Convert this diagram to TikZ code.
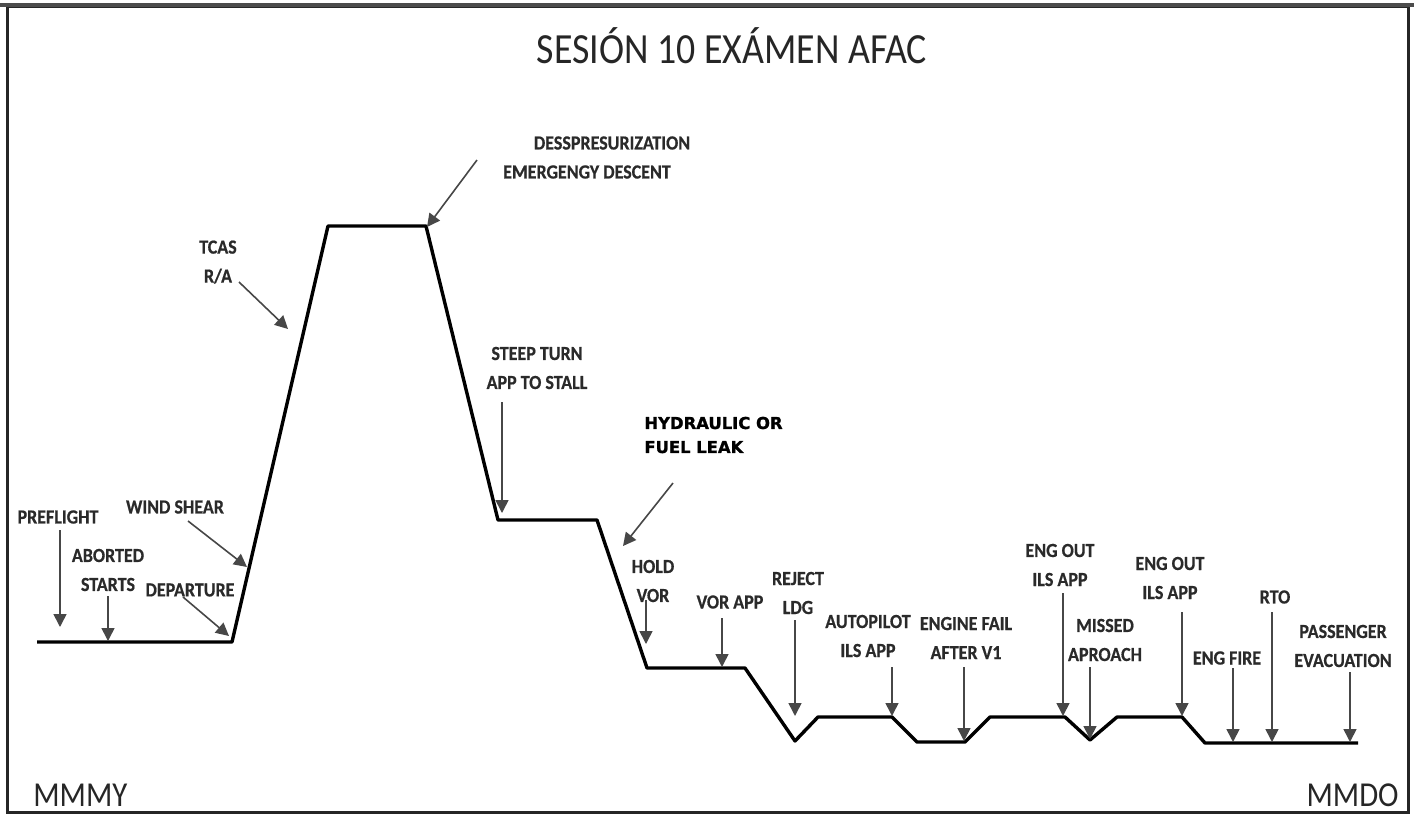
\documentclass[tikz,border=0pt]{standalone}
\usepackage{fontspec}
\usetikzlibrary{arrows.meta}
\newfontfamily\lblfont[FakeStretch=0.9,BoldFeatures={FakeBold=0.6}]{Carlito}
\newfontfamily\ttlfont[FakeStretch=0.88]{Carlito}
\newfontfamily\hydfont[BoldFeatures={FakeBold=1.2}]{DejaVu Sans}
\definecolor{lblc}{HTML}{2A2A2A}
\definecolor{arrc}{HTML}{474747}
\begin{document}
\begin{tikzpicture}[x=0.5pt,y=-0.5pt,
  prof/.style={line width=1.7pt, black, line join=round},
  arr/.style={draw=arrc, line width=0.8pt, -{Triangle[width=6.5pt,length=6.5pt]}},
  lbl/.style={font=\lblfont\bfseries\fontsize{10}{14.5}\selectfont, text=lblc, align=center, inner sep=0pt},
  ttl/.style={font=\ttlfont\fontsize{21.5}{24}\selectfont, text=black!85, inner sep=0pt},
  apt/.style={font=\ttlfont\fontsize{17.5}{20}\selectfont, text=black!85, inner sep=0pt},
  hyd/.style={font=\hydfont\bfseries\fontsize{8.2}{12}\selectfont, align=left, inner sep=0pt}]
\useasboundingbox (0,0) rectangle (1414,815);
% frame
\draw[line width=1.5pt, black!85] (7,6) rectangle (1408,812);
\draw[line width=2pt, black!70] (0,5) -- (1414,5);
% title and airports
\node[ttl] (title) at (732,46) {SESIÓN 10 EXÁMEN AFAC};
\node[apt, anchor=base west] (mmmy) at (33,806) {MMMY};
\node[apt, anchor=base east] (mmdo) at (1399,806) {MMDO};
% profile
\coordinate (p0) at (37,642);   \coordinate (p1) at (232,642);
\coordinate (p2) at (328,226);  \coordinate (p3) at (426,226);
\coordinate (p4) at (498,520);  \coordinate (p5) at (597,520);
\coordinate (p6) at (647,668);  \coordinate (p7) at (745,668);
\coordinate (p8) at (795,741);  \coordinate (p9) at (818,717);
\coordinate (p10) at (892,717); \coordinate (p11) at (917,742);
\coordinate (p12) at (965,742); \coordinate (p13) at (990,717);
\coordinate (p14) at (1065,717);\coordinate (p15) at (1090,740);
\coordinate (p16) at (1117,717);\coordinate (p17) at (1182,717);
\coordinate (p18) at (1205,743);\coordinate (p19) at (1358,743);
\draw[prof] (p0) -- (p1) -- (p2) -- (p3) -- (p4) -- (p5) -- (p6) -- (p7) -- (p8) -- (p9)
  -- (p10) -- (p11) -- (p12) -- (p13) -- (p14) -- (p15) -- (p16) -- (p17) -- (p18) -- (p19);
% labels
\node[lbl] (pre) at (58,517) {PREFLIGHT};
\node[lbl] (abo) at (108,570) {ABORTED\\STARTS};
\node[lbl] (dep) at (190,590) {DEPARTURE};
\node[lbl] (win) at (175,507) {WIND SHEAR};
\node[lbl] (tca) at (218,262) {TCAS\\R/A};
\node[lbl] (des) at (612,143) {DESSPRESURIZATION};
\node[lbl] (eme) at (587,172) {EMERGENGY DESCENT};
\node[lbl] (ste) at (537,368) {STEEP TURN\\APP TO STALL};
\node[hyd, anchor=west] (hyd) at (644,435) {HYDRAULIC OR\\FUEL LEAK};
\node[lbl] (hol) at (653,581) {HOLD\\VOR};
\node[lbl] (vor) at (730,602) {VOR APP};
\node[lbl] (rej) at (798,593) {REJECT\\LDG};
\node[lbl] (aut) at (868,636) {AUTOPILOT\\ILS APP};
\node[lbl] (eng) at (966,638) {ENGINE FAIL\\AFTER V1};
\node[lbl] (eo1) at (1060,565) {ENG OUT\\ILS APP};
\node[lbl] (mis) at (1105,640) {MISSED\\APROACH};
\node[lbl] (eo2) at (1170,578) {ENG OUT\\ILS APP};
\node[lbl] (fir) at (1227,658) {ENG FIRE};
\node[lbl] (rto) at (1275,597) {RTO};
\node[lbl] (pas) at (1343,646) {PASSENGER\\EVACUATION};
% arrow ends
\coordinate (a1s) at (60,530);   \coordinate (a1e) at (60,627);
\coordinate (a2s) at (108,596);  \coordinate (a2e) at (108,641);
\coordinate (a3s) at (183,597);  \coordinate (a3e) at (229,636);
\coordinate (a4s) at (188,521);  \coordinate (a4e) at (247,567);
\coordinate (a5s) at (239,282);  \coordinate (a5e) at (288,329);
\coordinate (a6s) at (477,160);  \coordinate (a6e) at (427,227);
\coordinate (a7s) at (502,402);  \coordinate (a7e) at (502,513);
\coordinate (a8s) at (673,483);  \coordinate (a8e) at (623,546);
\coordinate (a9s) at (646,600);  \coordinate (a9e) at (646,644);
\coordinate (a10s) at (722,618); \coordinate (a10e) at (722,667);
\coordinate (a11s) at (795,620); \coordinate (a11e) at (795,716);
\coordinate (a12s) at (892,667); \coordinate (a12e) at (892,716);
\coordinate (a13s) at (964,667); \coordinate (a13e) at (964,741);
\coordinate (a14s) at (1063,593);\coordinate (a14e) at (1063,716);
\coordinate (a15s) at (1090,667);\coordinate (a15e) at (1090,739);
\coordinate (a16s) at (1182,612);\coordinate (a16e) at (1182,716);
\coordinate (a17s) at (1233,668);\coordinate (a17e) at (1233,742);
\coordinate (a18s) at (1272,612);\coordinate (a18e) at (1272,742);
\coordinate (a19s) at (1350,672);\coordinate (a19e) at (1350,742);
\foreach \i in {1,...,19} {\draw[arr] (a\i s) -- (a\i e);}
\end{tikzpicture}
\end{document}
